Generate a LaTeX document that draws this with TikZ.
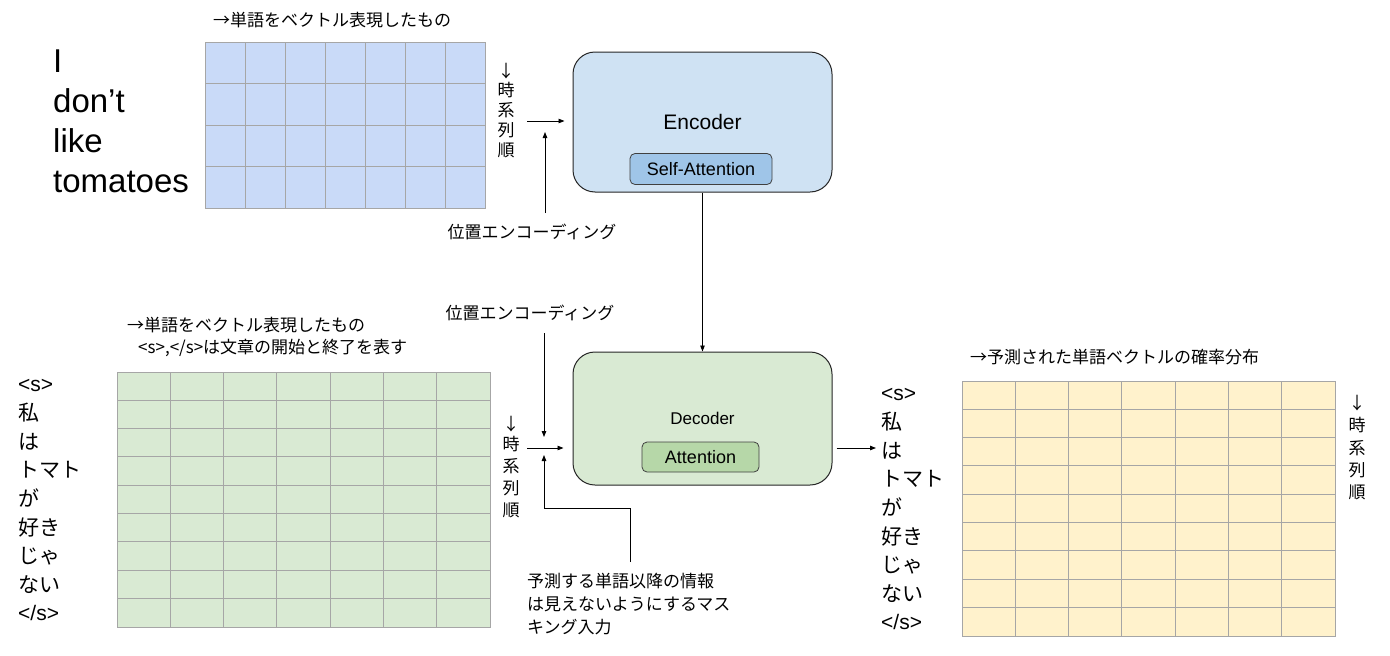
\documentclass[tikz,border=0pt]{standalone}
\usepackage{fontspec}
\setmainfont{Liberation Sans}
\newfontfamily\jp{Noto Sans CJK JP}
\usetikzlibrary{arrows.meta}
\definecolor{gblue}{HTML}{C9DAF8}
\definecolor{gridgray}{HTML}{A6A6A6}
\definecolor{encfill}{HTML}{CFE2F3}
\definecolor{safill}{HTML}{9FC5E8}
\definecolor{decfill}{HTML}{D9EAD3}
\definecolor{attfill}{HTML}{B6D7A8}
\definecolor{gyellow}{HTML}{FFF2CC}
\tikzset{
  gridbox/.style={draw=gridgray, line width=1pt, inner sep=0pt, anchor=north west},
  gridline/.style={draw=gridgray, line width=1pt},
  bigbox/.style={draw=black!85, line width=1pt, rounded corners=22pt, inner sep=0pt},
  subbox/.style={draw=black!75, line width=0.8pt, rounded corners=5pt, inner sep=0pt},
  conn/.style={line width=0.9pt, -{Triangle[length=6pt,width=4.5pt]}},
  jpcap/.style={font=\jp\fontsize{17}{20}\selectfont, inner sep=0pt},
  jpword/.style={font=\jp\fontsize{21}{25}\selectfont, inner sep=0pt, anchor=base west},
  enword/.style={font=\fontsize{21}{25}\selectfont, inner sep=0pt, anchor=base west},
  bigword/.style={font=\fontsize{33}{38}\selectfont, inner sep=0pt, anchor=base west},
  vchar/.style={font=\jp\fontsize{17}{20}\selectfont, inner sep=0pt},
}
\begin{document}
\begin{tikzpicture}[x=1pt,y=-1pt]
\useasboundingbox (0,0) rectangle (1390,656);
\fill[white] (0,0) rectangle (1390,656);

% ---------- top grid ----------
\node[gridbox, fill=gblue, minimum width=280, minimum height=166] (g1) at (205,42) {};
\foreach \i in {1,...,6} \draw[gridline] (205+\i*40,42) -- (205+\i*40,208);
\foreach \j in {1,...,3} \draw[gridline] (205,42+\j*41.5) -- (485,42+\j*41.5);
\node[jpcap, anchor=west] (cap1) at (213,20) {→単語をベクトル表現したもの};

\node[bigword] (w1) at (53,72) {I};
\node[bigword] (w2) at (53,112) {don’t};
\node[bigword] (w3) at (53,152) {like};
\node[bigword] (w4) at (53,192) {tomatoes};

% vertical labels top
\node[vchar] (ta) at (506,71) {↓};
\node[vchar] (tb) at (506,90) {時};
\node[vchar] (tc) at (506,110) {系};
\node[vchar] (td) at (506,130) {列};
\node[vchar] (te) at (506,150) {順};

% ---------- encoder ----------
\node[bigbox, fill=encfill, minimum width=259, minimum height=140, font=\fontsize{21}{25}\selectfont] (enc) at (702.5,122) {Encoder};
\node[subbox, fill=safill, minimum width=142, minimum height=31, font=\fontsize{18}{22}\selectfont] (sa) at (701,169) {Self-Attention};

\node[jpcap] (pe1) at (532,232) {位置エンコーディング};
\coordinate (ein) at (527,121);
\coordinate (pe1top) at (545,213);
\draw[conn, shorten >=8pt] (ein) -- (ein -| enc.west);
\draw[conn] (pe1top) -- (545,132);

% ---------- decoder ----------
\node[bigbox, fill=decfill, minimum width=259, minimum height=133, font=\fontsize{17}{21}\selectfont] (dec) at (702.5,418.5) {Decoder};
\node[subbox, fill=attfill, minimum width=117, minimum height=30, font=\fontsize{18}{22}\selectfont] (att) at (700.5,457) {Attention};

\draw[conn] (enc.south) -- (dec.north);

\node[jpcap] (pe2) at (530,313) {位置エンコーディング};
\coordinate (pe2top) at (544,333);
\coordinate (din) at (527,448);
\draw[conn] (pe2top) -- (544,437);
\draw[conn, shorten >=9pt] (din) -- (din -| dec.west);

\node[jpcap, anchor=west] (m1) at (527,581) {予測する単語以降の情報};
\node[jpcap, anchor=west] (m2) at (527,604) {は見えないようにするマス};
\node[jpcap, anchor=west] (m3) at (527,627) {キング入力};
\coordinate (mtop) at (630,562);
\draw[conn] (mtop) -- (630,508) -- (544,508) -- (544,455);

\coordinate (dout) at (876,448);
\draw[conn, shorten <=4pt] (dec.east |- dout) -- (dout);

% vertical labels bottom
\node[vchar] (ba) at (511,424) {↓};
\node[vchar] (bb) at (511,444) {時};
\node[vchar] (bc) at (511,466) {系};
\node[vchar] (bd) at (511,488) {列};
\node[vchar] (be) at (511,510) {順};

% ---------- bottom-left grid ----------
\node[gridbox, fill=decfill, minimum width=373, minimum height=255] (g2) at (117,372) {};
\foreach \i in {1,...,6} \draw[gridline] (117+\i*53.29,372) -- (117+\i*53.29,627);
\foreach \j in {1,...,8} \draw[gridline] (117,372+\j*28.33) -- (490,372+\j*28.33);
\node[jpcap, anchor=west] (cap2a) at (127,325) {→単語をベクトル表現したもの};
\node[jpcap, anchor=west] (cap2b) at (138,348) {<s>,</s>は文章の開始と終了を表す};

\node[enword] (l1) at (18,391) {<s>};
\node[jpword] (l2) at (18,420.6) {私};
\node[jpword] (l3) at (18,449.2) {は};
\node[jpword] (l4) at (18,477.8) {トマト};
\node[jpword] (l5) at (18,506.4) {が};
\node[jpword] (l6) at (18,535) {好き};
\node[jpword] (l7) at (18,563.6) {じゃ};
\node[jpword] (l8) at (18,592.2) {ない};
\node[enword] (l9) at (18,620.8) {</s>};

% ---------- right grid ----------
\node[gridbox, fill=gyellow, minimum width=373, minimum height=255] (g3) at (962,381) {};
\foreach \i in {1,...,6} \draw[gridline] (962+\i*53.29,381) -- (962+\i*53.29,636);
\foreach \j in {1,...,8} \draw[gridline] (962,381+\j*28.33) -- (1335,381+\j*28.33);
\node[jpcap, anchor=west] (cap3) at (970,357) {→予測された単語ベクトルの確率分布};

\node[enword] (r1) at (881,400) {<s>};
\node[jpword] (r2) at (881,429.6) {私};
\node[jpword] (r3) at (881,458.2) {は};
\node[jpword] (r4) at (881,486.8) {トマト};
\node[jpword] (r5) at (881,515.4) {が};
\node[jpword] (r6) at (881,544) {好き};
\node[jpword] (r7) at (881,572.6) {じゃ};
\node[jpword] (r8) at (881,601.2) {ない};
\node[enword] (r9) at (881,629.8) {</s>};

\node[vchar] (ra) at (1357,403) {↓};
\node[vchar] (rb) at (1357,425) {時};
\node[vchar] (rc) at (1357,448) {系};
\node[vchar] (rd) at (1357,470) {列};
\node[vchar] (re) at (1357,492) {順};
\end{tikzpicture}
\end{document}
